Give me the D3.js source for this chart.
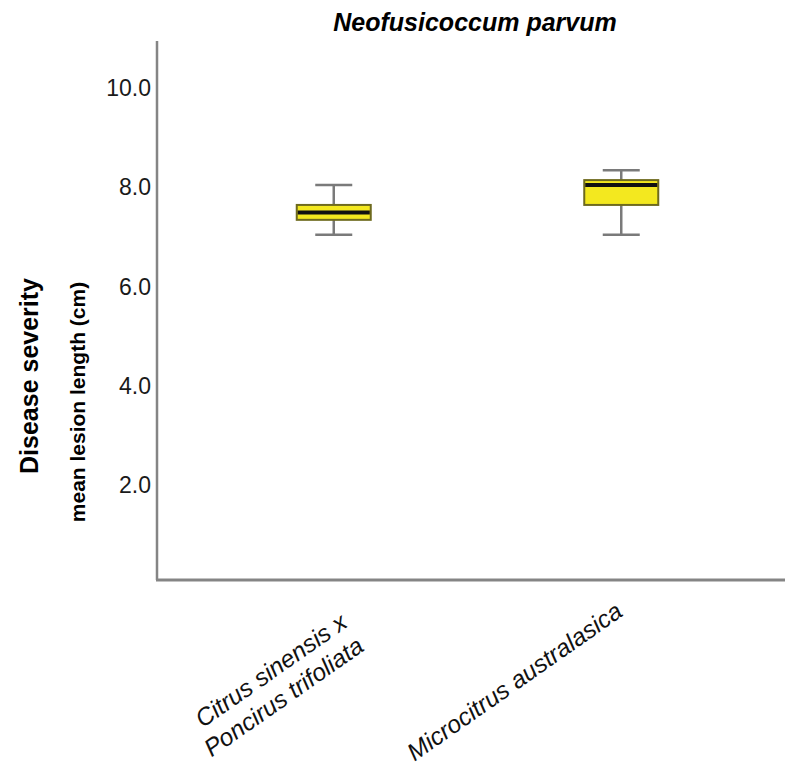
<!DOCTYPE html>
<html>
<head>
<meta charset="utf-8">
<script src="https://cdn.jsdelivr.net/npm/d3@7"></script>
<style>
  html, body { margin: 0; padding: 0; background: #fff; }
  svg { display: block; }
</style>
</head>
<body>
<script>
// ---- data ----
const categories = ["Citrus sinensis x\nPoncirus trifoliata", "Microcitrus australasica"];
const whiskerMin = [7.05, 7.05];
const quartile1  = [7.35, 7.65];
const medians    = [7.5, 8.05];
const quartile3  = [7.65, 8.15];
const whiskerMax = [8.05, 8.35];
const yTicks = [2, 4, 6, 8, 10];
const title = "Neofusicoccum parvum";
const yLabel1 = "Disease severity";
const yLabel2 = "mean lesion length (cm)";

const W = 785, H = 771;
const svg = d3.select("body").append("svg").attr("width", W).attr("height", H);

const axisX = 157, axisBottom = 580, axisTop = 41;
const y = d3.scaleLinear().domain([0.1, 10.95]).range([axisBottom, axisTop]);
const x = d3.scalePoint().domain(categories).range([190, 765]).padding(0.5);

const font = "Arial, 'Liberation Sans', Helvetica, sans-serif";

// axes lines
svg.append("line").attr("x1", axisX).attr("x2", axisX).attr("y1", axisTop).attr("y2", axisBottom)
  .attr("stroke", "#858585").attr("stroke-width", 2.5);
svg.append("line").attr("x1", axisX - 1).attr("x2", W).attr("y1", axisBottom).attr("y2", axisBottom)
  .attr("stroke", "#858585").attr("stroke-width", 3);

// y axis tick labels (no tick marks)
const yAxis = d3.axisLeft(y).tickValues(yTicks).tickFormat(d3.format(".1f")).tickSize(0).tickPadding(6);
const gy = svg.append("g").attr("transform", `translate(${axisX},0)`).call(yAxis);
gy.select(".domain").remove();
gy.selectAll("text").attr("font-family", font).attr("font-size", 23).attr("fill", "#1a1a1a");

// title
svg.append("text").attr("x", 475).attr("y", 31).attr("text-anchor", "middle")
  .attr("font-family", font).attr("font-size", 25).attr("font-weight", "bold").attr("font-style", "italic")
  .attr("fill", "#000").text(title);

// y labels
svg.append("text").attr("transform", `translate(38,376) rotate(-90)`).attr("text-anchor", "middle")
  .attr("font-family", font).attr("font-size", 25).attr("font-weight", "bold").attr("fill", "#000").text(yLabel1);
svg.append("text").attr("transform", `translate(85,402) rotate(-90)`).attr("text-anchor", "middle")
  .attr("font-family", font).attr("font-size", 21).attr("font-weight", "bold").attr("fill", "#000").text(yLabel2);

// boxes
const boxW = 74, capW = 37;
const data = categories.map((c, i) => ({ c, lo: whiskerMin[i], q1: quartile1[i], med: medians[i], q3: quartile3[i], hi: whiskerMax[i] }));
const g = svg.append("g").selectAll("g").data(data).join("g");
const wc = "#7a7a7a";
g.append("line").attr("x1", d => x(d.c)).attr("x2", d => x(d.c)).attr("y1", d => y(d.hi)).attr("y2", d => y(d.q3))
  .attr("stroke", wc).attr("stroke-width", 2.5);
g.append("line").attr("x1", d => x(d.c)).attr("x2", d => x(d.c)).attr("y1", d => y(d.q1)).attr("y2", d => y(d.lo))
  .attr("stroke", wc).attr("stroke-width", 2.5);
g.append("line").attr("x1", d => x(d.c) - capW / 2).attr("x2", d => x(d.c) + capW / 2).attr("y1", d => y(d.hi)).attr("y2", d => y(d.hi))
  .attr("stroke", wc).attr("stroke-width", 2.5);
g.append("line").attr("x1", d => x(d.c) - capW / 2).attr("x2", d => x(d.c) + capW / 2).attr("y1", d => y(d.lo)).attr("y2", d => y(d.lo))
  .attr("stroke", wc).attr("stroke-width", 2.5);
g.append("rect").attr("x", d => x(d.c) - boxW / 2).attr("width", boxW)
  .attr("y", d => y(d.q3)).attr("height", d => y(d.q1) - y(d.q3))
  .attr("fill", "#f3e81f").attr("stroke", "#6e6a1e").attr("stroke-width", 2);
g.append("line").attr("x1", d => x(d.c) - boxW / 2 + 1).attr("x2", d => x(d.c) + boxW / 2 - 1)
  .attr("y1", d => y(d.med)).attr("y2", d => y(d.med)).attr("stroke", "#111").attr("stroke-width", 4);

// x labels, rotated
const labelOffset = { 1: [3, 615], 2: [15, 626] };
categories.forEach(c => {
  const lines = c.split("\n");
  const off = labelOffset[lines.length];
  const t = svg.append("text").attr("transform", `translate(${x(c) + off[0]},${off[1]}) rotate(-35)`)
    .attr("text-anchor", "end").attr("font-family", font).attr("font-size", 24.5).attr("font-style", "italic").attr("fill", "#111");
  lines.forEach((l, i) => t.append("tspan").attr("x", 0).attr("dy", i === 0 ? 0 : 29).text(l));
});
</script>
</body>
</html>
